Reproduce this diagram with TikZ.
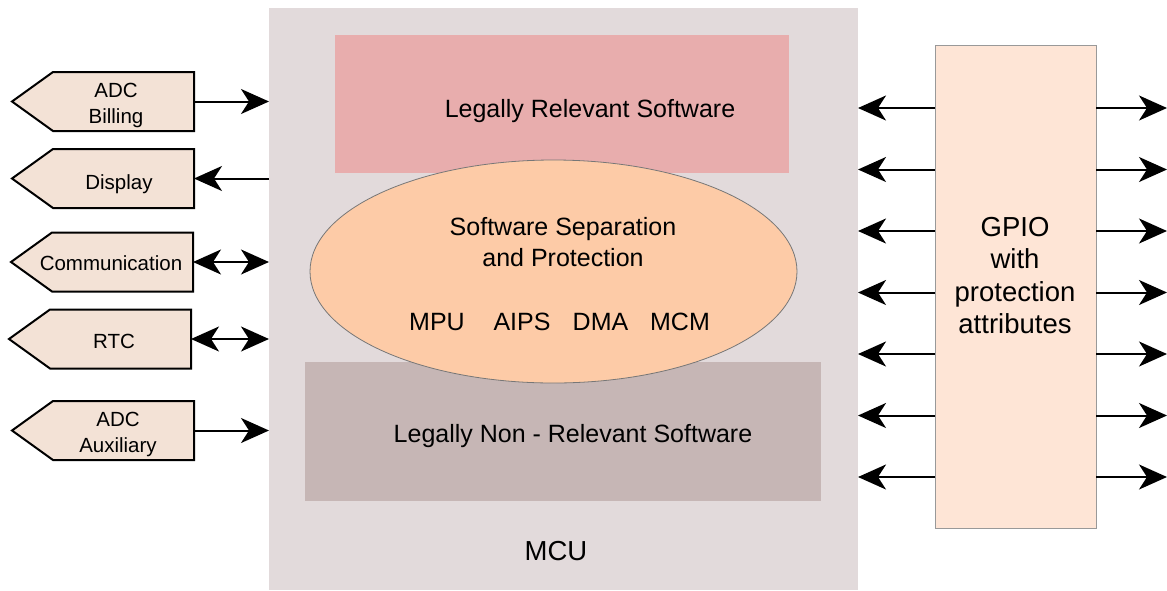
\documentclass[tikz,border=0pt]{standalone}
\usepackage{fontspec}
\setmainfont{Liberation Sans}
\usetikzlibrary{arrows.meta,shapes.geometric}
\definecolor{mcubg}{HTML}{E2DADB}
\definecolor{lrsfill}{HTML}{E8ADAD}
\definecolor{sepfill}{HTML}{FDCBA7}
\definecolor{lnrsfill}{HTML}{C6B6B5}
\definecolor{gpiofill}{HTML}{FEE5D6}
\definecolor{srcfill}{HTML}{F3E2D6}
\definecolor{edgegray}{HTML}{777777}
\tikzset{
  plainbox/.style={rectangle, draw=none, inner sep=0pt, outer sep=0pt, anchor=north west},
  srcbox/.style={rectangle, draw=none, inner sep=0pt, outer sep=0pt, minimum width=182pt, minimum height=59pt},
  pentstyle/.style={draw=black, line width=2pt, fill=srcfill},
  srctext/.style={inner sep=0pt, align=center, font=\fontsize{20.5}{26}\selectfont},
  midtext/.style={inner sep=0pt, align=center, font=\fontsize{25}{31}\selectfont},
  bigtext/.style={inner sep=0pt, align=center, font=\fontsize{27.5}{32.5}\selectfont},
  arrowtip/.tip={Stealth[length=28pt, width=25pt, inset=8pt]},
  arr/.style={line width=2pt, -arrowtip},
  darr/.style={line width=2pt, arrowtip-arrowtip}
}
\newcommand\pentagon[1]{%
  \draw[pentstyle] (#1.north east) -- (#1.south east) -- ([xshift=41pt]#1.south west) -- (#1.west) -- ([xshift=41pt]#1.north west) -- cycle;}
\begin{document}
\begin{tikzpicture}[x=1pt,y=-1pt]
\useasboundingbox (0,0) rectangle (1167,590);
% MCU and inner blocks
\node[plainbox, fill=mcubg, minimum width=589pt, minimum height=582pt] (mcu) at (269,8) {};
\node[plainbox, fill=lrsfill, minimum width=454pt, minimum height=138pt] (lrs) at (335,35) {};
\node[plainbox, fill=lnrsfill, minimum width=516pt, minimum height=139pt] (lnrs) at (305,362) {};
\node[ellipse, draw=edgegray, line width=0.8pt, fill=sepfill, inner sep=0pt, minimum width=487pt, minimum height=223pt] (sep) at (553.5,271.5) {};
\node[midtext] (lrst) at (590,111) {Legally Relevant Software};
\node[midtext] (lnrst) at (573,436.5) {Legally Non - Relevant Software};
\node[midtext] (sept) at (563,242.5) {Software Separation\\and Protection};
\node[midtext] (mpu) at (437,322) {MPU};
\node[midtext] (aips) at (522,322) {AIPS};
\node[midtext] (dma) at (600.5,322) {DMA};
\node[midtext] (mcm) at (680,322) {MCM};
\node[bigtext] (mcut) at (556,551.5) {MCU};
% GPIO
\node[plainbox, fill=gpiofill, draw=gray!80, line width=1pt, minimum width=161pt, minimum height=483pt] (gpio) at (935,45) {};
\node[bigtext] (gpiot) at (1015,275.5) {GPIO\\with\\protection\\attributes};
% Left peripheral blocks
\node[srcbox] (billing) at (103,101.5) {};
\pentagon{billing}
\node[srctext] (billingt) at (116,105.5) {ADC\\Billing};
\node[srcbox] (display) at (103,178.5) {};
\pentagon{display}
\node[srctext] (displayt) at (119,184) {Display};
\node[srcbox] (comm) at (102,262) {};
\pentagon{comm}
\node[srctext] (commt) at (111,263) {Communication};
\node[srcbox] (rtc) at (100,339) {};
\pentagon{rtc}
\node[srctext] (rtct) at (114,341.5) {RTC};
\node[srcbox] (aux) at (103,430.5) {};
\pentagon{aux}
\node[srctext] (auxt) at (118,434) {ADC\\Auxiliary};
% Left connectors
\draw[arr] (billing.east) -- (mcu.west |- billing.east);
\draw[arr] (mcu.west |- display.east) -- (display.east);
\draw[darr] (comm.east) -- (mcu.west |- comm.east);
\draw[darr] (rtc.east) -- (mcu.west |- rtc.east);
\draw[arr] (aux.east) -- (mcu.west |- aux.east);
% Right connectors
\foreach \i/\y in {1/108,2/169.5,3/231,4/292.5,5/354,6/415.5,7/477} {
  \coordinate (gr\i) at (1167,\y);
  \draw[arr] (gpio.west |- gr\i) -- (mcu.east |- gr\i);
  \draw[arr] (gpio.east |- gr\i) -- (gr\i);
}
\end{tikzpicture}
\end{document}
